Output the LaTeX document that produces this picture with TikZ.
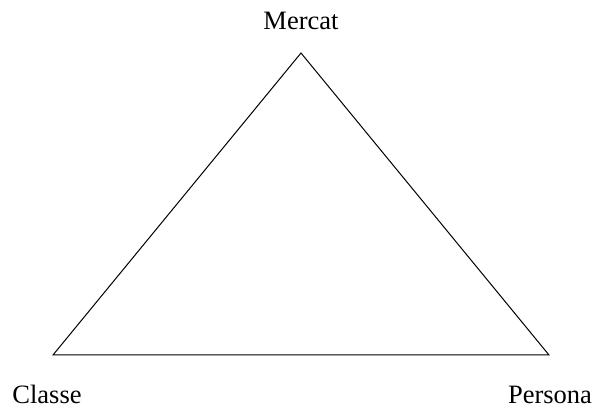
\documentclass[tikz,border=0pt]{standalone}
\usepackage{fontspec}
\setmainfont{Liberation Serif}
\tikzset{lbl/.style={inner sep=0pt, anchor=base, font=\fontsize{26.5}{30}\selectfont}}
\begin{document}
\begin{tikzpicture}[x=1pt,y=1pt]
\useasboundingbox (0,0) rectangle (595,410);
\coordinate (top) at (301,357);
\coordinate (bl) at (53,55);
\coordinate (br) at (549,55);
\draw[line width=1pt, line join=miter] (top) -- (bl) -- (br) -- cycle;
\node[lbl] (mercat) at (301,380.5) {Mercat};
\node[lbl] (classe) at (47,6.5) {Classe};
\node[lbl] (persona) at (550,6.5) {Persona};
\end{tikzpicture}
\end{document}
